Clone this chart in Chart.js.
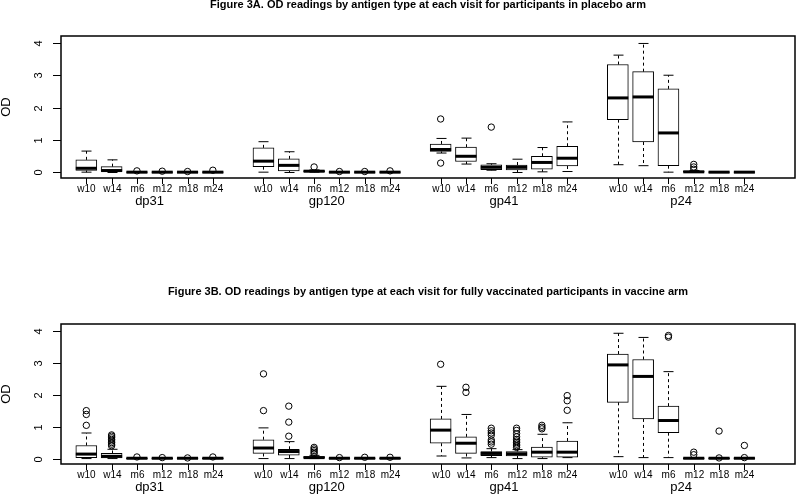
<!DOCTYPE html>
<html>
<head>
<script src="https://cdn.jsdelivr.net/npm/chart.js@4.4.0/dist/chart.umd.min.js"></script>
<style>
body { margin: 0; background: #fff; }
canvas { display: block; }
</style>
</head>
<body>
<canvas id="placebo" width="800" height="247"></canvas>
<canvas id="vaccine" width="800" height="248"></canvas>
<script>
var antigens = ['dp31', 'gp120', 'gp41', 'p24'];
var visits = ['w10', 'w14', 'm6', 'm12', 'm18', 'm24'];
var yTicks = [0, 1, 2, 3, 4];

// Figure 3A, placebo arm. order: dp31 w10..m24, gp120 w10..m24, gp41 ..., p24 ...
var placeboLow  = [0.01, 0.00, 0.00, 0.00, 0.00, 0.00,  0.01, 0.00, 0.01, 0.00, 0.00, 0.00,  0.60, 0.26, 0.07, 0.00, 0.02, 0.03,  0.24, 0.21, 0.01, 0.00, 0.00, 0.00];
var placeboQ1   = [0.06, 0.03, 0.00, 0.00, 0.00, 0.00,  0.18, 0.05, 0.02, 0.00, 0.00, 0.00,  0.65, 0.34, 0.09, 0.08, 0.10, 0.20,  1.63, 0.94, 0.21, 0.01, 0.00, 0.00];
var placeboMed  = [0.13, 0.06, 0.01, 0.01, 0.01, 0.01,  0.35, 0.22, 0.04, 0.01, 0.01, 0.01,  0.71, 0.50, 0.16, 0.16, 0.31, 0.44,  2.30, 2.33, 1.22, 0.02, 0.01, 0.01];
var placeboQ3   = [0.39, 0.18, 0.02, 0.02, 0.02, 0.02,  0.76, 0.42, 0.06, 0.02, 0.02, 0.02,  0.88, 0.78, 0.24, 0.23, 0.50, 0.81,  3.33, 3.11, 2.58, 0.04, 0.02, 0.02];
var placeboHigh = [0.66, 0.39, 0.03, 0.02, 0.02, 0.02,  0.95, 0.64, 0.08, 0.02, 0.02, 0.02,  1.05, 1.06, 0.27, 0.41, 0.77, 1.56,  3.62, 3.98, 3.00, 0.06, 0.02, 0.02];
var placeboOut  = [[], [], [0.05], [0.04], [0.03], [0.07],
                   [], [], [0.17], [0.03], [0.03], [0.05],
                   [1.65, 0.29], [], [1.40], [], [], [],
                   [], [], [], [0.10, 0.17, 0.25], [], []];

// Figure 3B, fully vaccinated participants in vaccine arm
var vaccineLow  = [0.00, 0.00, 0.00, 0.00, 0.00, 0.00,  0.00, 0.00, 0.00, 0.00, 0.00, 0.00,  0.08, 0.02, 0.03, 0.00, 0.00, 0.03,  0.06, 0.03, 0.03, 0.00, 0.00, 0.00];
var vaccineQ1   = [0.03, 0.02, 0.00, 0.00, 0.00, 0.00,  0.16, 0.11, 0.01, 0.00, 0.00, 0.00,  0.48, 0.16, 0.09, 0.08, 0.04, 0.04,  1.76, 1.24, 0.81, 0.00, 0.00, 0.00];
var vaccineMed  = [0.14, 0.07, 0.01, 0.01, 0.01, 0.01,  0.33, 0.22, 0.03, 0.01, 0.01, 0.01,  0.89, 0.48, 0.16, 0.15, 0.20, 0.20,  2.93, 2.57, 1.19, 0.01, 0.01, 0.01];
var vaccineQ3   = [0.41, 0.16, 0.02, 0.02, 0.02, 0.02,  0.59, 0.29, 0.06, 0.02, 0.02, 0.02,  1.24, 0.68, 0.22, 0.22, 0.36, 0.55,  3.27, 3.10, 1.64, 0.02, 0.02, 0.02];
var vaccineHigh = [0.80, 0.29, 0.03, 0.02, 0.02, 0.03,  0.96, 0.53, 0.10, 0.02, 0.03, 0.02,  2.26, 1.38, 0.31, 0.28, 0.76, 1.12,  3.92, 3.79, 2.72, 0.03, 0.03, 0.03];
var vaccineOut  = [[1.04, 1.38, 1.50], [0.40, 0.45, 0.50, 0.55, 0.60, 0.65, 0.70, 0.74], [0.05], [0.03], [0.02], [0.05],
                   [1.50, 2.65], [0.70, 1.14, 1.64], [0.15, 0.20, 0.25, 0.30, 0.35], [0.03], [0.04], [0.04],
                   [2.95], [2.07, 2.23], [0.45, 0.52, 0.58, 0.73, 0.80, 0.87, 0.95], [0.35, 0.40, 0.45, 0.50, 0.55, 0.60, 0.68, 0.78, 0.88, 0.95], [0.93, 0.98, 1.04], [1.51, 1.81, 1.97],
                   [], [], [3.80, 3.85], [0.12, 0.20], [0.02, 0.86], [0.03, 0.41]];

var FONT = '"Liberation Sans", Arial, Helvetica, sans-serif';

// box i sits in slot: 6 visits per antigen, one empty slot between antigens
function slotOf(i) {
	return Math.floor(i / visits.length) * (visits.length + 1) + (i % visits.length) + 1;
}

function line(ctx, x1, y1, x2, y2) {
	ctx.beginPath();
	ctx.moveTo(x1, y1);
	ctx.lineTo(x2, y2);
	ctx.stroke();
}

function makeChart(canvasId, titleText, titleY, pad, low, q1, med, q3, high, out) {
	var boxData = [];
	var outData = [];
	for (var i = 0; i < med.length; i++) {
		boxData.push({x: slotOf(i), y: [q1[i], q3[i]]});
		for (var k = 0; k < out[i].length; k++) {
			outData.push({x: slotOf(i), y: out[i][k]});
		}
	}

	var boxPlugin = {
		id: 'boxParts',
		beforeDatasetsDraw: function(chart) {
			// dashed whiskers and staples
			var ctx = chart.ctx, xs = chart.scales.x, ys = chart.scales.y;
			ctx.save();
			ctx.strokeStyle = '#000';
			ctx.lineWidth = 1;
			for (var i = 0; i < med.length; i++) {
				var px = Math.round(xs.getPixelForValue(slotOf(i))) + 0.5;
				ctx.setLineDash([3, 3]);
				line(ctx, px, ys.getPixelForValue(q3[i]), px, ys.getPixelForValue(high[i]));
				line(ctx, px, ys.getPixelForValue(q1[i]), px, ys.getPixelForValue(low[i]));
				ctx.setLineDash([]);
				line(ctx, px - 5, ys.getPixelForValue(high[i]), px + 5, ys.getPixelForValue(high[i]));
				line(ctx, px - 5, ys.getPixelForValue(low[i]), px + 5, ys.getPixelForValue(low[i]));
			}
			ctx.restore();
		},
		afterDatasetsDraw: function(chart) {
			var ctx = chart.ctx, xs = chart.scales.x, ys = chart.scales.y, a = chart.chartArea;
			ctx.save();
			ctx.strokeStyle = '#000';
			ctx.fillStyle = '#000';

			// medians
			ctx.lineWidth = 3;
			for (var i = 0; i < med.length; i++) {
				var px = xs.getPixelForValue(slotOf(i));
				line(ctx, px - 10.5, ys.getPixelForValue(med[i]), px + 10.5, ys.getPixelForValue(med[i]));
			}

			// frame
			ctx.lineWidth = 1.5;
			ctx.strokeRect(a.left, a.top, a.right - a.left, a.bottom - a.top);

			// x ticks, visit labels, antigen labels
			ctx.lineWidth = 1;
			ctx.textAlign = 'center';
			ctx.textBaseline = 'middle';
			for (var i = 0; i < med.length; i++) {
				var px = Math.round(xs.getPixelForValue(slotOf(i))) + 0.5;
				line(ctx, px, a.bottom, px, a.bottom + 6);
				ctx.font = '10px ' + FONT;
				ctx.fillText(visits[i % visits.length], px, a.bottom + 11);
			}
			ctx.font = '13px ' + FONT;
			for (var g = 0; g < antigens.length; g++) {
				var first = xs.getPixelForValue(slotOf(g * visits.length));
				var last = xs.getPixelForValue(slotOf(g * visits.length + visits.length - 1));
				ctx.fillText(antigens[g], (first + last) / 2, a.bottom + 23);
			}

			// y ticks with rotated labels
			ctx.font = '11px ' + FONT;
			for (var t = 0; t < yTicks.length; t++) {
				var py = Math.round(ys.getPixelForValue(yTicks[t])) + 0.5;
				line(ctx, a.left - 8, py, a.left, py);
				ctx.save();
				ctx.translate(a.left - 22, py);
				ctx.rotate(-Math.PI / 2);
				ctx.fillText(String(yTicks[t]), 0, 0);
				ctx.restore();
			}
			ctx.save();
			ctx.font = '13px ' + FONT;
			ctx.translate(6, (a.top + a.bottom) / 2);
			ctx.rotate(-Math.PI / 2);
			ctx.fillText('OD', 0, 0);
			ctx.restore();

			// title
			ctx.font = 'bold 11px ' + FONT;
			ctx.fillText(titleText, (a.left + a.right) / 2, titleY);
			ctx.restore();
		}
	};

	return new Chart(document.getElementById(canvasId), {
		type: 'bar',
		data: {
			datasets: [{
				type: 'scatter',
				data: outData,
				pointStyle: 'circle',
				pointRadius: 3.2,
				pointBorderWidth: 1,
				pointBorderColor: '#000',
				pointBackgroundColor: 'rgba(255,255,255,0)',
				showLine: false
			}, {
				data: boxData,
				backgroundColor: '#fff',
				borderColor: '#000',
				borderWidth: 1,
				borderSkipped: false,
				barThickness: 21
			}]
		},
		options: {
			responsive: false,
			animation: false,
			devicePixelRatio: 1,
			layout: { padding: pad },
			plugins: {
				legend: { display: false },
				tooltip: { enabled: false },
				title: { display: false }
			},
			scales: {
				x: { type: 'linear', min: 0, max: 29, offset: false, display: false },
				y: { type: 'linear', min: -0.17, max: 4.21, display: false }
			}
		},
		plugins: [boxPlugin]
	});
}

makeChart('placebo', 'Figure 3A. OD readings by antigen type at each visit for participants in placebo arm', 5,
	{left: 61, right: 1, top: 36, bottom: 69},
	placeboLow, placeboQ1, placeboMed, placeboQ3, placeboHigh, placeboOut);

makeChart('vaccine', 'Figure 3B. OD readings by antigen type at each visit for fully vaccinated participants in vaccine arm', 45,
	{left: 61, right: 1, top: 77, bottom: 31},
	vaccineLow, vaccineQ1, vaccineMed, vaccineQ3, vaccineHigh, vaccineOut);
</script>
</body>
</html>
